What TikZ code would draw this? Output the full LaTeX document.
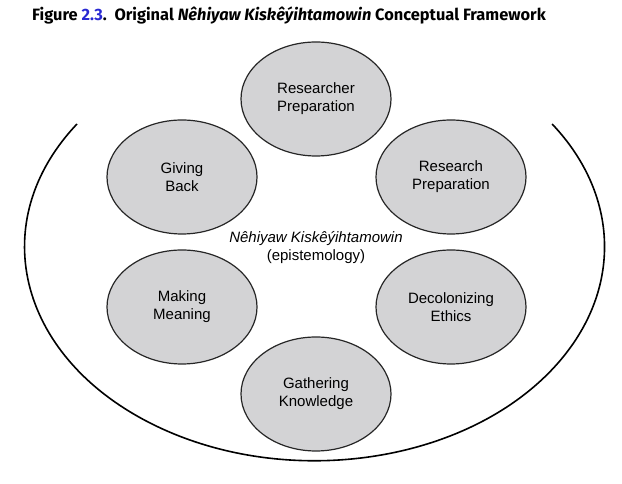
\documentclass[tikz,border=0pt]{standalone}
\usepackage{fontspec}
\setmainfont{Liberation Sans}
\newfontfamily\titlefont{Fira Sans}
\usetikzlibrary{shapes.geometric}
\definecolor{ovalgray}{RGB}{211,211,213}
\definecolor{figblue}{RGB}{40,40,210}
\tikzset{
  phase/.style={ellipse, draw=black!85, line width=1.2pt, fill=ovalgray,
    minimum width=150pt, minimum height=114pt, align=center, inner sep=0pt,
    font=\fontsize{15}{18}\selectfont},
  bowl/.style={line width=1.6pt, black}
}
\begin{document}
\begin{tikzpicture}[x=1pt,y=1pt]
\useasboundingbox (0,0) rectangle (622,484);

% Title
\node[anchor=base west, inner sep=0pt, font=\titlefont\bfseries\fontsize{16.4}{18}\selectfont]
  (title) at (32,463) {Figure \textcolor{figblue}{2.3}.\ \ Original \textit{Nêhiyaw Kiskêýihtamowin} Conceptual Framework};

% Outer bowl
\draw[bowl] (77,360) arc[start angle=145, end angle=395, x radius=290, y radius=214];

% Epistemology
\node[align=center, font=\fontsize{15}{18}\selectfont] (centre) at (316,236)
  {\textit{Nêhiyaw Kiskêýihtamowin}\\(epistemology)};

% Six phases
\node[phase] (researcher) at (316,385) {Researcher\\Preparation};
\node[phase] (research)   at (451,307) {Research\\Preparation};
\node[phase] (ethics)     at (451,177) {Decolonizing\\Ethics};
\node[phase] (gathering)  at (316,90)  {Gathering\\Knowledge};
\node[phase] (meaning)    at (182,177) {Making\\Meaning};
\node[phase] (giving)     at (182,307) {Giving\\Back};

\end{tikzpicture}
\end{document}
